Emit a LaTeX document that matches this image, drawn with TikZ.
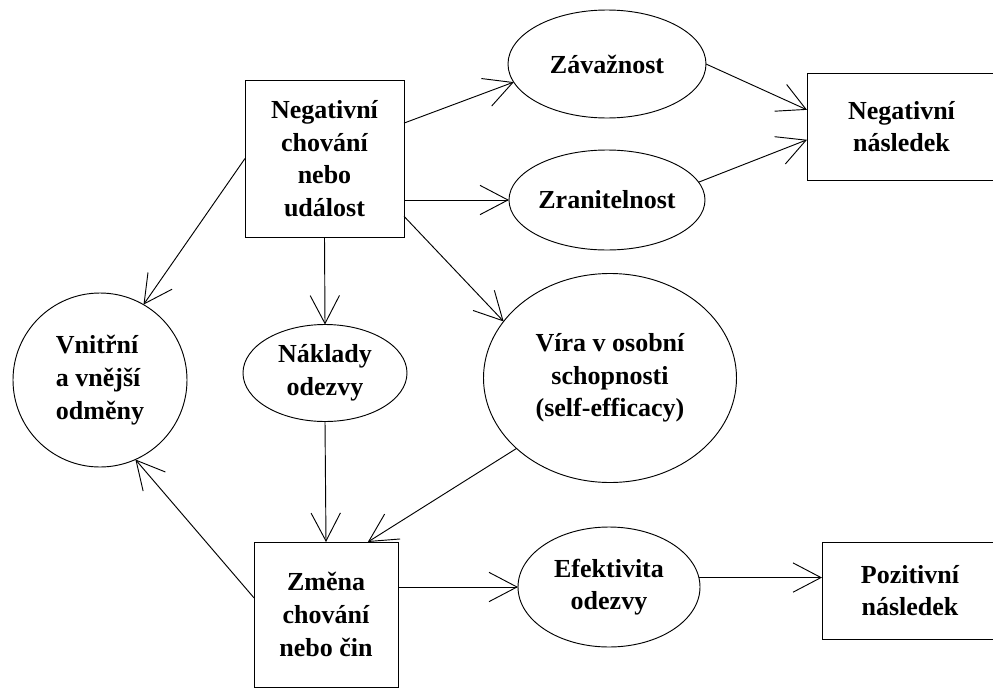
\documentclass[tikz,border=0pt]{standalone}
\usepackage{fontspec}
\setmainfont{Liberation Serif}
\usepackage{tikz}
\usetikzlibrary{shapes.geometric, arrows.meta, positioning}

\begin{document}
\begin{tikzpicture}[x=0.75pt, y=-0.75pt]
  \tikzstyle{label} = [font=\bfseries\fontsize{19.5}{24.5}\selectfont, align=center, inner sep=0pt, outer sep=0pt]
  \tikzstyle{box} = [rectangle, draw=black, line width=0.7pt, label]
  \tikzstyle{oval} = [ellipse, draw=black, line width=0.7pt, label]
  \tikzstyle{arrow} = [line width=0.7pt, -{Straight Barb[length=21pt, width=22pt]}]

  \useasboundingbox (0,0) rectangle (993,689);
  \clip (0,0) rectangle (993,689);

  % causes
  \node (neg) [box, minimum width=119.25pt, minimum height=117.75pt] at (324.5,158.5) {Negativní\\chování\\nebo\\událost};
  \node (zav) [oval, minimum width=148.5pt, minimum height=81pt] at (607,64) {Závažnost};
  \node (zran) [oval, minimum width=147pt, minimum height=75pt] at (607,200) {Zranitelnost};
  \node (negnasl) [box, minimum width=141.75pt, minimum height=80.25pt] at (901.5,126.5) {Negativní\\následek};

  % middle row
  \node (vnitrni) [circle, draw=black, line width=0.7pt, label, align=left, minimum size=130.5pt] at (100,380) {Vnitřní\\a vnější\\odměny};
  \node (naklady) [oval, minimum width=123pt, minimum height=72.75pt] at (325,373) {Náklady\\odezvy};
  \node (vira) [oval, minimum width=189.75pt, minimum height=156.75pt] at (610,378) {Víra v osobní\\schopnosti\\(self-efficacy)};

  % response
  \node (zmena) [box, minimum width=108pt, minimum height=108.75pt] at (326,614.5) {Změna\\chování\\nebo čin};
  \node (efekt) [oval, minimum width=136.5pt, minimum height=90pt] at (609,587) {Efektivita\\odezvy};
  \node (pozit) [box, minimum width=132pt, minimum height=72.75pt] at (910,590.5) {Pozitivní\\následek};

  \draw [arrow] (neg.24) -- (zav.191);
  \draw [arrow] (neg.east |- zran.west) -- (zran.west);
  \draw [arrow] (neg.-36) -- (vira.152);
  \draw [arrow] (neg.south) -- (naklady.north);
  \draw [arrow] (neg.west) -- (vnitrni.60);
  \draw [arrow] (zav.east) -- (negnasl.170);
  \draw [arrow] (zran.11) -- (negnasl.188);
  \draw [arrow] (naklady.south) -- (zmena.north);
  \draw [arrow] (vira.217) -- (zmena.60);
  \draw [arrow] (zmena.167) -- (vnitrni.-66);
  \draw [arrow] (zmena.east |- efekt.west) -- (efekt.west);
  \draw [arrow] (efekt.6) -- (pozit.west |- efekt.6);
\end{tikzpicture}
\end{document}
